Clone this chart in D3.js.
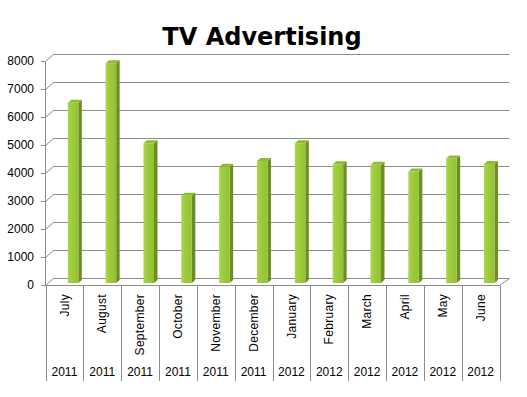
<!DOCTYPE html>
<html>
<head>
<meta charset="utf-8">
<script src="https://cdn.jsdelivr.net/npm/d3@7"></script>
<style>
  body { margin: 0; background: #fff; }
  text { font-family: "Liberation Sans", Arial, sans-serif; fill: #000; }
</style>
</head>
<body>
<div id="chart"></div>
<script>
// data
const months = ["July", "August", "September", "October", "November", "December",
                "January", "February", "March", "April", "May", "June"];
const years = ["2011", "2011", "2011", "2011", "2011", "2011",
               "2012", "2012", "2012", "2012", "2012", "2012"];
const spend = [6440, 7850, 4990, 3120, 4150, 4360, 4990, 4240, 4220, 3980, 4450, 4250];
const yTicks = [0, 1000, 2000, 3000, 4000, 5000, 6000, 7000, 8000];

const width = 527, height = 397;

let svg = d3.select("#chart").append("svg")
            .attr("width", width)
            .attr("height", height);

// scales: front plane, back wall, and the plane of the bars
let x = d3.scaleBand().domain(d3.range(months.length)).range([45.5, 499.5]);
let yFront = d3.scaleLinear().domain([0, 8000]).range([285, 61]);
let yBack = d3.scaleLinear().domain([0, 8000]).range([278, 54]);
let yBar = d3.scaleLinear().domain([0, 8000]).range([283, 59]);
const backLeft = 53.5, backRight = 509.5;

// gradient for bar fronts
let defs = svg.append("defs");
let grad = defs.append("linearGradient").attr("id", "front").attr("x1", "0").attr("x2", "1");
grad.append("stop").attr("offset", "0").attr("stop-color", "#a9d64c");
grad.append("stop").attr("offset", "0.4").attr("stop-color", "#9dcb3c");
grad.append("stop").attr("offset", "1").attr("stop-color", "#93c135");

//title
svg.append("text")
   .attr("x", 262)
   .attr("y", 45)
   .style("text-anchor", "middle")
   .style("font-family", "'DejaVu Sans', Verdana, sans-serif")
   .style("font-weight", "bold")
   .style("font-size", "24px")
   .text("TV Advertising");

// walls and gridlines
let grid = svg.append("g").attr("stroke", "#8c8c8c").attr("stroke-width", 1).attr("fill", "none");
grid.selectAll("line.back").data(yTicks).enter().append("line")
    .attr("x1", backLeft).attr("x2", backRight)
    .attr("y1", d => Math.round(yBack(d)) + 0.5).attr("y2", d => Math.round(yBack(d)) + 0.5);
grid.selectAll("line.side").data(yTicks).enter().append("line")
    .attr("x1", 45.5).attr("y1", d => Math.round(yFront(d)) + 0.5)
    .attr("x2", backLeft).attr("y2", d => Math.round(yBack(d)) + 0.5);

// floor
grid.append("line").attr("x1", 45.5).attr("x2", 499.5).attr("y1", 285.5).attr("y2", 285.5);
grid.append("line").attr("x1", 499.5).attr("y1", 285.5).attr("x2", backRight).attr("y2", 278.5);

// y axis
let yAxis = svg.append("g");
yAxis.append("line").attr("x1", 45.5).attr("x2", 45.5)
     .attr("y1", Math.round(yFront(8000)) + 0.5).attr("y2", 285.5)
     .attr("stroke", "#8c8c8c");
yAxis.selectAll("line.tick").data(yTicks).enter().append("line")
     .attr("x1", 41).attr("x2", 45.5)
     .attr("y1", d => Math.round(yFront(d)) + 0.5).attr("y2", d => Math.round(yFront(d)) + 0.5)
     .attr("stroke", "#8c8c8c");
yAxis.selectAll("text").data(yTicks).enter().append("text")
     .attr("x", 34)
     .attr("y", d => yFront(d))
     .attr("dy", "0.35em")
     .style("text-anchor", "end")
     .style("font-size", "12px")
     .text(d => d);

// bars
const off = x.bandwidth() * 0.59, bw = 10.5, dx = 3.5, dy = 3;
let bars = svg.append("g").selectAll("g").data(spend).enter().append("g");
bars.append("polygon")   // side
    .attr("fill", "#6b8f23")
    .attr("points", (d, i) => {
      let x0 = x(i) + off + bw, t = yBar(d), b = yBar(0);
      return [[x0, t], [x0 + dx, t - dy], [x0 + dx, b - dy], [x0, b]].join(" ");
    });
bars.append("polygon")   // top
    .attr("fill", "#8fba34")
    .attr("points", (d, i) => {
      let x0 = x(i) + off, t = yBar(d);
      return [[x0, t], [x0 + dx, t - dy], [x0 + bw + dx, t - dy], [x0 + bw, t]].join(" ");
    });
bars.append("rect")      // front
    .attr("fill", "url(#front)")
    .attr("x", (d, i) => x(i) + off)
    .attr("y", d => yBar(d))
    .attr("width", bw)
    .attr("height", d => yBar(0) - yBar(d));

// category axis
let xAxis = svg.append("g");
xAxis.selectAll("line").data(d3.range(months.length + 1)).enter().append("line")
     .attr("x1", i => Math.round(45.5 + i * x.step()) + 0.5)
     .attr("x2", i => Math.round(45.5 + i * x.step()) + 0.5)
     .attr("y1", 285.5).attr("y2", 381)
     .attr("stroke", "#8c8c8c");
xAxis.selectAll("text.month").data(months).enter().append("text")
     .attr("transform", (d, i) => `translate(${x(i) + x.bandwidth() / 2},294) rotate(-90)`)
     .attr("dy", "0.35em")
     .style("text-anchor", "end")
     .style("font-size", "12px")
     .style("letter-spacing", "0.3px")
     .text(d => d);
xAxis.selectAll("text.year").data(years).enter().append("text")
     .attr("x", (d, i) => x(i) + x.bandwidth() / 2)
     .attr("y", 376)
     .style("text-anchor", "middle")
     .style("font-size", "12px")
     .text(d => d);
</script>
</body>
</html>
